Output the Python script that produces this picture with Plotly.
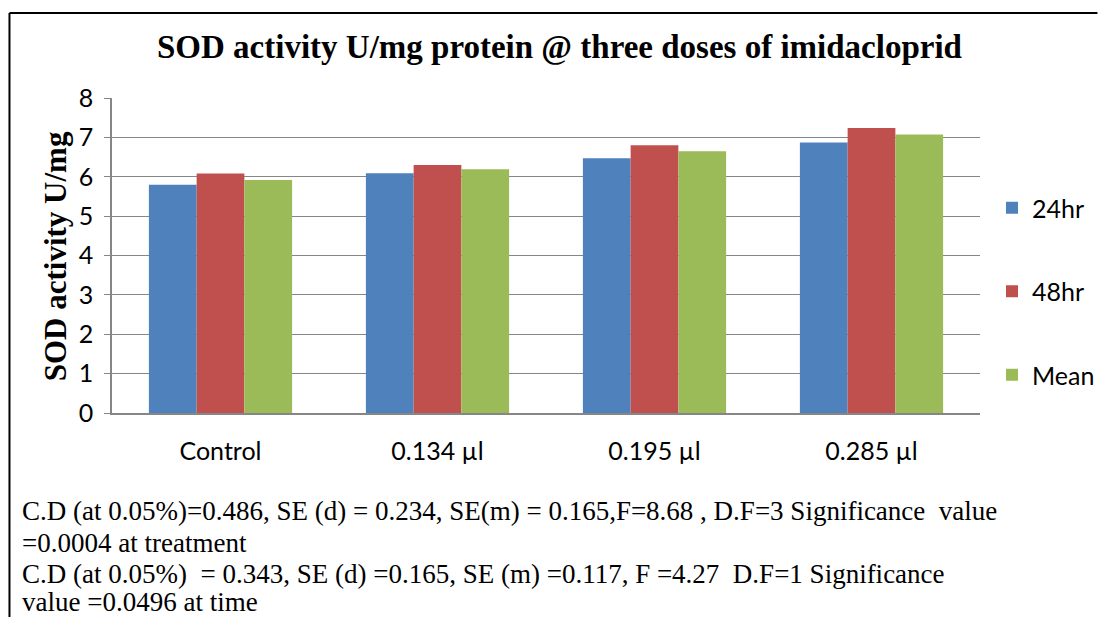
import plotly.graph_objects as go

categories = ["Control", "0.134 µl", "0.195 µl", "0.285 µl"]
series_names = ["24hr", "48hr", "Mean"]
v_24hr = [5.80, 6.09, 6.47, 6.87]
v_48hr = [6.08, 6.30, 6.80, 7.24]
v_mean = [5.92, 6.19, 6.65, 7.07]
colors = ["#4F81BD", "#C0504D", "#9BBB59"]
y_ticks = [0, 1, 2, 3, 4, 5, 6, 7, 8]

title_text = "SOD activity U/mg protein @ three doses of imidacloprid"
y_title = "SOD activity U/mg"
notes = [
    "C.D (at 0.05%)=0.486, SE (d) = 0.234, SE(m) = 0.165,F=8.68 , D.F=3 Significance  value",
    "=0.0004 at treatment",
    "C.D (at 0.05%)  = 0.343, SE (d) =0.165, SE (m) =0.117, F =4.27  D.F=1 Significance",
    "value =0.0496 at time",
]

W, H = 1102, 617
L, R, T, B = 112, 984, 98, 413  # plot area in pixels
pw, ph = R - L, B - T


def px(x):
    return (x - L) / pw


def py(y):
    return (B - y) / ph


fig = go.Figure()
for name, vals, c in zip(series_names, [v_24hr, v_48hr, v_mean], colors):
    fig.add_trace(go.Bar(x=categories, y=vals, name=name, marker_color=c,
                         marker_line_width=0, legendgroup=name))

tick_font = dict(family="Lato", size=25, color="#000")
fig.update_layout(
    width=W, height=H,
    margin=dict(l=L, r=W - R, t=T, b=H - B, pad=0),
    paper_bgcolor="white", plot_bgcolor="white",
    barmode="group", bargap=0.34, bargroupgap=0,
    showlegend=True,
    legend=dict(xref="container", yref="container", x=992 / W, y=1 - 185 / H,
                xanchor="left", yanchor="top",
                font=dict(family="Lato", size=25, color="#000"),
                tracegroupgap=48, itemwidth=30, bgcolor="rgba(0,0,0,0)"),
    xaxis=dict(showgrid=False, showline=True, linecolor="#868686", linewidth=1.5,
               ticks="", ticklabelstandoff=15, tickfont=tick_font),
    yaxis=dict(range=[0, 8], tickvals=y_ticks, showgrid=True, gridcolor="#868686",
               gridwidth=1.2, showline=True, linecolor="#868686", linewidth=1.5,
               ticks="outside", ticklen=6, tickcolor="#868686", zeroline=False,
               ticklabelstandoff=6, tickfont=tick_font),
)

fig.add_annotation(text="<b>" + title_text + "</b>", xref="paper", yref="paper",
                   x=px(562), y=py(47), showarrow=False, xanchor="center", yanchor="middle",
                   font=dict(family="Liberation Serif", size=33, color="#000"))
fig.add_annotation(text="<b>" + y_title + "</b>", xref="paper", yref="paper",
                   x=px(55), y=py(256), showarrow=False, textangle=-90,
                   xanchor="center", yanchor="middle",
                   font=dict(family="Liberation Serif", size=31, color="#000"))

line_y = [511, 543, 574, 602]
for t, yy in zip(notes, line_y):
    fig.add_annotation(text=t, xref="paper", yref="paper", x=px(20), y=py(yy),
                       showarrow=False, xanchor="left", yanchor="middle", align="left",
                       font=dict(family="Liberation Serif", size=27, color="#000"))

fig.add_shape(type="line", xref="paper", yref="paper", x0=px(9), x1=px(1102),
              y0=py(13), y1=py(13), line=dict(color="#000", width=2))
fig.add_shape(type="line", xref="paper", yref="paper", x0=px(9), x1=px(9),
              y0=py(13), y1=py(617), line=dict(color="#000", width=2))

fig.write_html(
    "out.html",
    config={"displayModeBar": False},
    post_script="document.body.style.margin='0';document.body.style.overflow='hidden';",
)
